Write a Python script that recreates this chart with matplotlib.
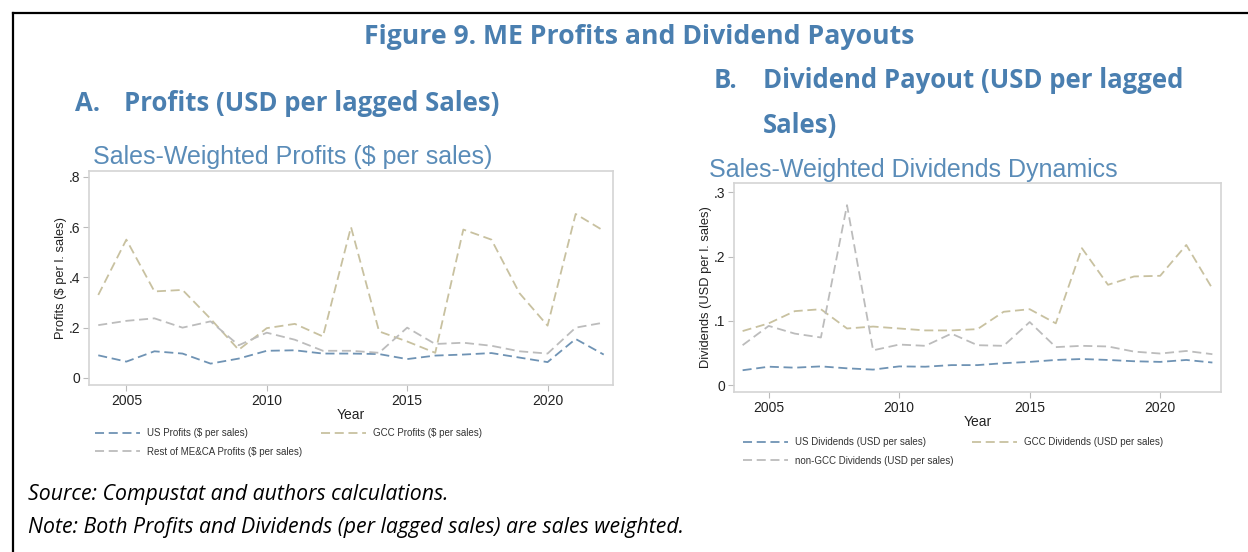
import matplotlib
matplotlib.use("Agg")
import matplotlib.pyplot as plt
from matplotlib.lines import Line2D

years = list(range(2004, 2023))

# Panel A: profits ($ per lagged sales)
us_profits = [0.090, 0.065, 0.106, 0.097, 0.057, 0.077, 0.108, 0.110, 0.097, 0.097,
              0.095, 0.075, 0.089, 0.093, 0.099, 0.081, 0.063, 0.155, 0.093]
gcc_profits = [0.330, 0.550, 0.344, 0.350, 0.235, 0.112, 0.198, 0.215, 0.165, 0.600,
               0.185, 0.145, 0.100, 0.590, 0.550, 0.337, 0.208, 0.652, 0.585]
rest_profits = [0.210, 0.227, 0.237, 0.200, 0.225, 0.130, 0.180, 0.152, 0.108, 0.108,
                0.100, 0.200, 0.135, 0.140, 0.128, 0.106, 0.097, 0.200, 0.220]

# Panel B: dividends (USD per lagged sales)
us_div = [0.023, 0.0285, 0.027, 0.029, 0.026, 0.024, 0.029, 0.0285, 0.031, 0.031,
          0.034, 0.036, 0.039, 0.0405, 0.039, 0.037, 0.036, 0.039, 0.035]
gcc_div = [0.084, 0.096, 0.115, 0.118, 0.088, 0.091, 0.088, 0.085, 0.085, 0.087,
           0.114, 0.118, 0.096, 0.213, 0.156, 0.169, 0.170, 0.218, 0.150]
nongcc_div = [0.062, 0.092, 0.080, 0.074, 0.280, 0.054, 0.063, 0.061, 0.080, 0.062,
              0.061, 0.098, 0.059, 0.061, 0.060, 0.052, 0.049, 0.053, 0.048]

left_labels = ["US Profits ($ per sales)", "GCC Profits ($ per sales)",
               "Rest of ME&CA Profits ($ per sales)"]
right_labels = ["US Dividends (USD per sales)", "GCC Dividends (USD per sales)",
                "non-GCC Dividends (USD per sales)"]
xticks = [2005, 2010, 2015, 2020]

C_US = "#6f93b4"
C_GCC = "#c8c1a0"
C_REST = "#bcbcbc"
HEAD = "#4a7fb0"
SUB = "#5a8cb8"
DASH = (0, (5, 2.6))
LIB = ["Liberation Sans", "DejaVu Sans"]

W, H = 1248, 552
fig = plt.figure(figsize=(W / 100, H / 100), dpi=100)
fig.patch.set_facecolor("white")

def fx(px):
    return px / W

def fy(py):
    return 1 - py / H

# border (top and left)
fig.add_artist(Line2D([fx(13), fx(1260)], [fy(13), fy(13)], color="black", lw=1.6,
                      transform=fig.transFigure))
fig.add_artist(Line2D([fx(13), fx(13)], [fy(13), fy(560)], color="black", lw=1.6,
                      transform=fig.transFigure))

hfont = dict(family=["Open Sans", "DejaVu Sans"], weight="bold", color=HEAD,
             va="baseline", ha="left", fontsize=18.5)
fig.text(fx(639), fy(44), "Figure 9. ME Profits and Dividend Payouts",
         **{**hfont, "ha": "center", "fontsize": 19.2})
fig.text(fx(75), fy(111), "A.", **hfont)
fig.text(fx(124), fy(111), "Profits (USD per lagged Sales)", **hfont)
fig.text(fx(714), fy(88), "B.", **hfont)
fig.text(fx(763), fy(88), "Dividend Payout (USD per lagged", **hfont)
fig.text(fx(763), fy(133), "Sales)", **hfont)

sfont = dict(family=LIB, color=SUB, va="baseline", ha="left", fontsize=18)
fig.text(fx(93), fy(164), "Sales-Weighted Profits ($ per sales)", **sfont)
fig.text(fx(709), fy(177), "Sales-Weighted Dividends Dynamics", **sfont)

ifont = dict(family=["Open Sans", "DejaVu Sans"], style="italic", color="black",
             va="baseline", ha="left", fontsize=15.3)
fig.text(fx(28), fy(500), "Source: Compustat and authors calculations.", **ifont)
fig.text(fx(28), fy(533),
         "Note: Both Profits and Dividends (per lagged sales) are sales weighted.", **ifont)

def style_axes(ax, ylim, yticks, yticklabels, ylabel):
    ax.set_xlim(2003.67, 2022.33)
    ax.set_ylim(*ylim)
    ax.set_xticks(xticks)
    ax.set_yticks(yticks)
    ax.set_yticklabels(yticklabels)
    for s in ax.spines.values():
        s.set_color("#d4d4d4")
        s.set_linewidth(1.2)
    ax.tick_params(axis="both", colors="#bbbbbb", labelcolor="#222222", labelsize=10,
                   length=4, width=0.8, pad=2.5)
    for lab in ax.get_xticklabels() + ax.get_yticklabels():
        lab.set_family(LIB)
    ax.set_xlabel("Year", fontsize=10, family=LIB, color="#222222", labelpad=0)
    ax.set_ylabel(ylabel, fontsize=9.3, family=LIB, color="#222222", labelpad=1)

leg_kw = dict(ncol=2, frameon=False, loc="upper left", bbox_transform=fig.transFigure,
              prop={"family": LIB, "size": 7}, handlelength=4.6, handletextpad=0.7,
              columnspacing=2.0, labelspacing=0.9, borderaxespad=0, borderpad=0)

# Left panel
axL = fig.add_axes([fx(89), fy(385), fx(613 - 89), (385 - 170.7) / H])
l1, = axL.plot(years, us_profits, color=C_US, lw=1.3, linestyle=DASH)
l2, = axL.plot(years, gcc_profits, color=C_GCC, lw=1.3, linestyle=DASH)
l3, = axL.plot(years, rest_profits, color=C_REST, lw=1.3, linestyle=DASH)
style_axes(axL, (-0.028, 0.824), [0, 0.2, 0.4, 0.6, 0.8], ["0", ".2", ".4", ".6", ".8"],
           "Profits ($ per l. sales)")
legL = axL.legend([l1, l3, l2], [left_labels[0], left_labels[2], left_labels[1]],
                  bbox_to_anchor=(fx(95), fy(428)), **leg_kw)
for t in legL.get_texts():
    t.set_color("#333333")

# Right panel
axR = fig.add_axes([fx(734), fy(391.7), fx(1221 - 734), (391.7 - 183.3) / H])
r1, = axR.plot(years, us_div, color=C_US, lw=1.3, linestyle=DASH)
r2, = axR.plot(years, gcc_div, color=C_GCC, lw=1.3, linestyle=DASH)
r3, = axR.plot(years, nongcc_div, color=C_REST, lw=1.3, linestyle=DASH)
style_axes(axR, (-0.0104, 0.314), [0, 0.1, 0.2, 0.3], ["0", ".1", ".2", ".3"],
           "Dividends (USD per l. sales)")
legR = axR.legend([r1, r3, r2], [right_labels[0], right_labels[2], right_labels[1]],
                  bbox_to_anchor=(fx(743), fy(437)), **leg_kw)
for t in legR.get_texts():
    t.set_color("#333333")

fig.savefig("out.png", dpi=100, facecolor="white")
